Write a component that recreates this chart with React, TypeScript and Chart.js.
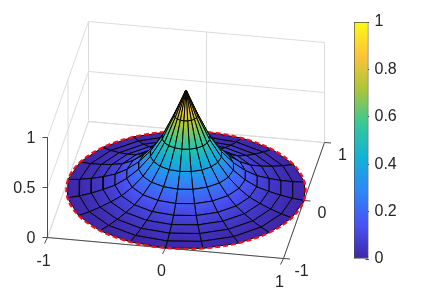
import React, { useEffect, useRef } from "react";
import { Chart, registerables } from "chart.js";

Chart.register(...registerables);

// Surface values (polar mesh: height against radius, 20 angular sectors)
const radii = [0, 0.1, 0.2, 0.3, 0.4, 0.5, 0.6, 0.7, 0.8, 0.9, 1];
const heights = [1, 0.75, 0.525, 0.36, 0.24, 0.155, 0.095, 0.06, 0.032, 0.012, 0];
const thetaDeg = [0, 18, 36, 54, 72, 90, 108, 126, 144, 162, 180, 198, 216, 234, 252, 270, 288, 306, 324, 342, 360];
// Red dashed rim circle, at z = 0 and r = 1
const rimBackDeg = [0, 6, 12, 18, 24, 30, 36, 42, 48, 54, 60, 66, 72, 78, 84, 90, 96, 102, 108, 114, 120, 126, 132, 138, 144, 150, 156, 162, 168, 174, 180];
const rimFrontDeg = [180, 186, 192, 198, 204, 210, 216, 222, 228, 234, 240, 246, 252, 258, 264, 270, 276, 282, 288, 294, 300, 306, 312, 318, 324, 330, 336, 342, 348, 354, 360];
// Axes
const xTicks = [-1, 0, 1];
const yTicks = [-1, 0, 1];
const zTicks = [0, 0.5, 1];
const colorbarTicks = [0, 0.2, 0.4, 0.6, 0.8, 1];
const parula = [
  [62, 38, 168],
  [72, 82, 244],
  [46, 135, 247],
  [18, 177, 214],
  [55, 200, 151],
  [171, 199, 57],
  [254, 195, 56],
  [249, 251, 21],
];

const FONT = '16px "Liberation Sans", Arial, sans-serif';
const TEXT = "#262626";
const GRID = "#dcdcdc";
const AXIS = "#4a4a4a";

const rgb = (c: number[]) => `rgb(${c[0]},${c[1]},${c[2]})`;
function parulaAt(z: number) {
  const s = Math.min(0.99999, Math.max(0, z)) * (parula.length - 1);
  const k = Math.floor(s);
  const f = s - k;
  return rgb(parula[k].map((v, n) => Math.round(v + (parula[k + 1][n] - v) * f)));
}

// Orthographic view of the axes box onto the chart's two linear scales
function view(x: number, y: number, z: number) {
  return { x: x * 118 + y * 20.5, y: y * 58 - x * 10.5 + z * 100 };
}
const polar = (r: number, deg: number, z: number) => {
  const a = (deg * Math.PI) / 180;
  return view(r * Math.cos(a), r * Math.sin(a), z);
};

function zGradient(chart: any, a: any, b: any, z0: number, z1: number) {
  const sx = chart.scales.x;
  const sy = chart.scales.y;
  const g = chart.ctx.createLinearGradient(
    sx.getPixelForValue(a.x), sy.getPixelForValue(a.y),
    sx.getPixelForValue(b.x), sy.getPixelForValue(b.y)
  );
  g.addColorStop(0, parulaAt(z0));
  g.addColorStop(1, parulaAt(z1));
  const n = parula.length - 1;
  for (let k = 0; k <= n; k++) {
    const t = (k / n - z0) / (z1 - z0 || 1);
    if (t > 0 && t < 1) g.addColorStop(t, rgb(parula[k]));
  }
  return g;
}

function cellDataset(i: number, j: number) {
  const z0 = heights[i];
  const z1 = heights[i + 1];
  const r0 = radii[i];
  const r1 = radii[i + 1];
  const t0 = thetaDeg[j];
  const t1 = thetaDeg[j + 1];
  const mid = (t0 + t1) / 2;
  const corners = [polar(r0, t0, z0), polar(r1, t0, z1), polar(r1, t1, z1), polar(r0, t1, z0)];
  let cached: any = null;
  return {
    data: [...corners, corners[0]],
    fill: "shape",
    borderColor: "#050505",
    borderWidth: 1,
    pointRadius: 0,
    tension: 0,
    clip: false,
    borderJoinStyle: "round",
    backgroundColor: (ctx: any) => {
      if (!ctx.chart.chartArea) return parulaAt((z0 + z1) / 2);
      if (!cached) {
        cached = zGradient(ctx.chart, polar(r0, mid, z0), polar(r1, mid, z1), z0, z1);
      }
      return cached;
    },
    _depth:
      0.17 * ((r0 + r1) / 2) * Math.cos((mid * Math.PI) / 180) -
      ((r0 + r1) / 2) * Math.sin((mid * Math.PI) / 180) +
      0.6 * ((z0 + z1) / 2),
    _ring: i,
  };
}

function line(points: any[], color: string, width: number, dash: number[] = []) {
  return {
    data: points,
    fill: false,
    borderColor: color,
    borderWidth: width,
    borderDash: dash,
    pointRadius: 0,
    tension: 0,
    clip: false,
  };
}

function boxDatasets() {
  const out: any[] = [];
  const grid = (a: number[], b: number[]) =>
    out.push(line([view(a[0], a[1], a[2]), view(b[0], b[1], b[2])], GRID, 1));
  for (const z of zTicks) {
    grid([-1, 1, z], [1, 1, z]);
    grid([-1, -1, z], [-1, 1, z]);
  }
  for (const x of xTicks) {
    grid([x, 1, 0], [x, 1, 1]);
    grid([x, -1, 0], [x, 1, 0]);
  }
  for (const y of yTicks) {
    grid([-1, y, 0], [-1, y, 1]);
    grid([-1, y, 0], [1, y, 0]);
  }
  const ax = (a: number[], b: number[]) =>
    out.push(line([view(a[0], a[1], a[2]), view(b[0], b[1], b[2])], AXIS, 1));
  ax([-1, -1, 0], [1, -1, 0]);
  ax([1, -1, 0], [1, 1, 0]);
  ax([-1, -1, 0], [-1, -1, 1]);
  const tick = (p: any, dx: number, dy: number) =>
    out.push(line([p, { x: p.x + dx, y: p.y - dy }], AXIS, 1));
  for (const x of xTicks) tick(view(x, -1, 0), -3, 6);
  for (const y of yTicks) tick(view(1, y, 0), 6.5, 0.5);
  for (const z of zTicks) tick(view(-1, -1, z), -5, 0);
  return out;
}

function surfaceDatasets() {
  const cells: any[] = [];
  for (let i = 0; i < radii.length - 1; i++) {
    for (let j = 0; j < thetaDeg.length - 1; j++) cells.push(cellDataset(i, j));
  }
  const byDepth = (a: any, b: any) => a._depth - b._depth;
  const outer = cells.filter((c) => c._ring >= 3).sort(byDepth);
  const inner = cells.filter((c) => c._ring < 3).sort(byDepth);
  const ring = (list: number[]) =>
    line(list.map((d) => polar(1, d, 0)), "#f4101c", 2.2, [5, 3]);
  return [...outer, ring(rimBackDeg), ...inner, ring(rimFrontDeg)];
}

const tickText = {
  id: "tickText",
  afterDatasetsDraw(chart: any) {
    const { ctx, scales } = chart;
    const put = (label: string, p: any, dx: number, dy: number, align: CanvasTextAlign) => {
      ctx.textAlign = align;
      ctx.fillText(label, scales.x.getPixelForValue(p.x) + dx, scales.y.getPixelForValue(p.y) + dy);
    };
    ctx.save();
    ctx.font = FONT;
    ctx.fillStyle = TEXT;
    ctx.textBaseline = "middle";
    for (const x of xTicks) put(String(x), view(x, -1, 0), -4, 24, "center");
    for (const y of yTicks) put(String(y), view(1, y, 0), 18, 13.5, "center");
    for (const z of zTicks) put(String(z), view(-1, -1, z), -12, 1, "right");
    ctx.restore();
  },
};

export default function App() {
  const mainRef = useRef<HTMLCanvasElement>(null);
  const barRef = useRef<HTMLCanvasElement>(null);

  useEffect(() => {
    const datasets = [...boxDatasets(), ...surfaceDatasets()].reverse();
    const main = new Chart(mainRef.current as HTMLCanvasElement, {
      type: "line",
      data: { datasets: datasets as any },
      plugins: [tickText],
      options: {
        animation: false,
        responsive: false,
        events: [],
        layout: { padding: 0 },
        plugins: { legend: { display: false }, tooltip: { enabled: false } },
        scales: {
          x: { type: "linear", display: false, min: -186, max: 237 },
          y: { type: "linear", display: false, min: -104, max: 190 },
        },
      } as any,
    });

    let barFill: any = null;
    const bar = new Chart(barRef.current as HTMLCanvasElement, {
      type: "bar",
      data: {
        labels: [""],
        datasets: [
          {
            data: [[colorbarTicks[0], colorbarTicks[colorbarTicks.length - 1]]],
            barPercentage: 1,
            categoryPercentage: 1,
            borderColor: "#4a4a4a",
            borderWidth: 1,
            borderSkipped: false,
            backgroundColor: (ctx: any) => {
              if (!ctx.chart.chartArea) return parulaAt(0.5);
              if (!barFill) {
                barFill = zGradient(ctx.chart, { x: 0, y: 0 }, { x: 0, y: 1 }, 0, 1);
              }
              return barFill;
            },
          },
        ],
      } as any,
      options: {
        animation: false,
        responsive: false,
        events: [],
        layout: { padding: { top: 22, bottom: 35, left: 14, right: 0 } },
        plugins: { legend: { display: false }, tooltip: { enabled: false } },
        scales: {
          x: { display: false },
          y: {
            position: "right",
            min: 0,
            max: 1,
            afterFit: (s: any) => {
              s.width = 54.5;
            },
            afterBuildTicks: (s: any) => {
              s.ticks = colorbarTicks.map((value) => ({ value }));
            },
            border: { display: false },
            grid: { drawOnChartArea: false, drawTicks: true, tickLength: -3, color: "#4a4a4a", lineWidth: 1 },
            ticks: {
              color: TEXT,
              padding: 9,
              font: { family: '"Liberation Sans", Arial, sans-serif', size: 16 },
              callback: (v: any) => String(v),
            },
          },
        },
      } as any,
    });

    return () => {
      main.destroy();
      bar.destroy();
    };
  }, []);

  return (
    <div style={{ position: "fixed", left: 0, top: 0, width: 423, height: 294, background: "#fff", overflow: "hidden" }}>
      <canvas ref={mainRef} width={423} height={294} style={{ position: "absolute", left: 0, top: 0 }} />
      <canvas ref={barRef} width={83} height={294} style={{ position: "absolute", left: 340, top: 0 }} />
    </div>
  );
}
